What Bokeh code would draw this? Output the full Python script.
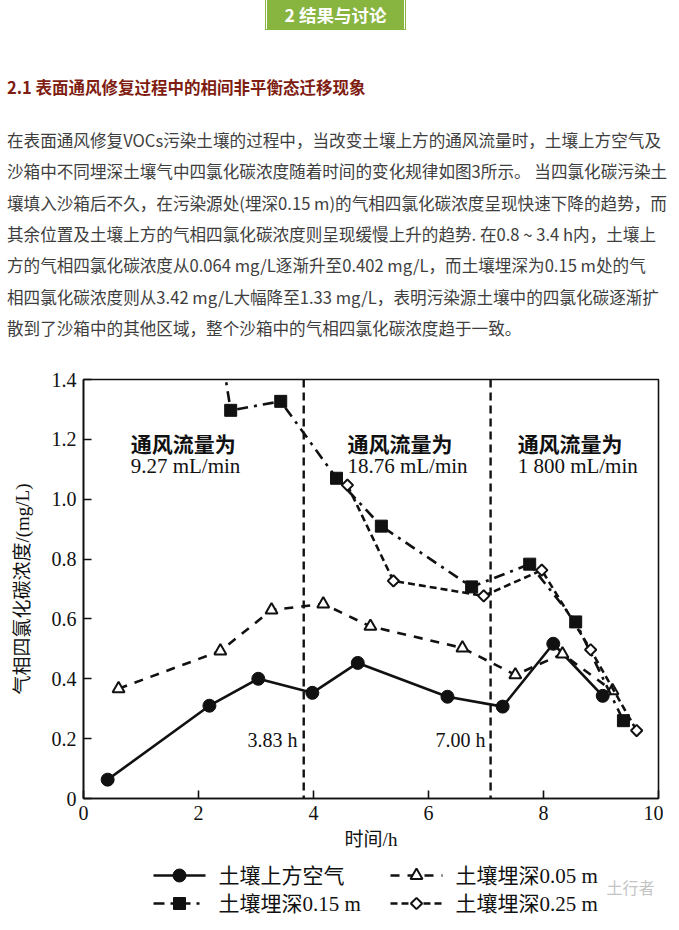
from bokeh.plotting import figure
from bokeh.models import Range1d, Span, FixedTicker, Div
from bokeh.layouts import column
from bokeh.embed import file_html
from bokeh.resources import INLINE
from bokeh.core.properties import value

# ---------------- data ----------------
air_t = [0.42, 2.19, 3.04, 3.98, 4.77, 6.33, 7.29, 8.17, 9.03]
air_c = [0.063, 0.31, 0.40, 0.353, 0.453, 0.34, 0.307, 0.517, 0.343]
d005_t = [0.61, 2.38, 3.27, 4.17, 4.99, 6.59, 7.51, 8.33, 9.20]
d005_c = [0.367, 0.493, 0.63, 0.65, 0.575, 0.503, 0.413, 0.483, 0.36]
d015_t = [0.80, 2.56, 3.43, 4.40, 5.18, 6.75, 7.76, 8.56, 9.39]
d015_c = [3.42, 1.297, 1.327, 1.07, 0.91, 0.707, 0.783, 0.59, 0.26]
d025_t = [4.59, 5.39, 6.96, 7.97, 8.82, 9.62]
d025_c = [1.047, 0.727, 0.677, 0.763, 0.497, 0.227]

series_names = ["土壤上方空气", "土壤埋深0.05 m", "土壤埋深0.15 m", "土壤埋深0.25 m"]

boundaries = [3.83, 7.08]
boundary_labels = ["3.83 h", "7.00 h"]
boundary_label_x = [3.72, 6.99]
boundary_label_y = [0.197, 0.197]

regime_x = [0.82, 4.59, 7.55]
regime_head = ["通风流量为", "通风流量为", "通风流量为"]
regime_flow = ["9.27 mL/min", "18.76 mL/min", "1 800 mL/min"]
regime_head_y = [1.187, 1.187, 1.187]
regime_flow_y = [1.11, 1.11, 1.11]

x_ticks = [0, 2, 4, 6, 8, 10]
y_ticks = [0, 0.2, 0.4, 0.6, 0.8, 1.0, 1.2, 1.4]

header_text = "2 结果与讨论"
section_title = "2.1 表面通风修复过程中的相间非平衡态迁移现象"
paragraph = [
    "在表面通风修复VOCs污染土壤的过程中，当改变土壤上方的通风流量时，土壤上方空气及",
    "沙箱中不同埋深土壤气中四氯化碳浓度随着时间的变化规律如图3所示。 当四氯化碳污染土",
    "壤填入沙箱后不久，在污染源处(埋深0.15 m)的气相四氯化碳浓度呈现快速下降的趋势，而",
    "其余位置及土壤上方的气相四氯化碳浓度则呈现缓慢上升的趋势. 在0.8 ~ 3.4 h内，土壤上",
    "方的气相四氯化碳浓度从0.064 mg/L逐渐升至0.402 mg/L，而土壤埋深为0.15 m处的气",
    "相四氯化碳浓度则从3.42 mg/L大幅降至1.33 mg/L，表明污染源土壤中的四氯化碳逐渐扩",
    "散到了沙箱中的其他区域，整个沙箱中的气相四氯化碳浓度趋于一致。",
]
watermark = "土行者"

CJK = "Noto Sans CJK SC"
SERIF = "Liberation Serif, Noto Sans CJK SC"
GREEN = "#88b440"
INK = "#111111"

# series styles (shared by chart and legend key)
styles = [
    dict(dash="solid", marker="circle", size=13, fill=INK, angle=0.0, lw=1),
    dict(dash="9 8", marker="triangle", size=12, fill="white", angle=0.0, lw=2),
    dict(dash="11 6 3 6", marker="square", size=12, fill=INK, angle=0.0, lw=1),
    dict(dash="7 4", marker="square", size=8, fill="white", angle=0.785, lw=2),
]
series_t = [air_t, d005_t, d015_t, d025_t]
series_c = [air_c, d005_c, d015_c, d025_c]

# ---------------- top text block (HTML) ----------------
parts = ['<div style="position:relative;width:663px;height:342px;'
         "font-family:'Noto Sans CJK SC',sans-serif;\">"]
parts.append('<div style="position:absolute;left:259.5px;top:-8px;width:141px;height:32.5px;'
             'border:1.6px solid %s;border-top:none;box-sizing:border-box;"></div>' % GREEN)
parts.append('<div style="position:absolute;left:262px;top:-8px;width:137px;height:31.5px;'
             'background:%s;"></div>' % GREEN)
parts.append('<div style="position:absolute;left:262px;top:0px;width:137px;height:20px;'
             'line-height:20px;text-align:center;color:white;font-weight:bold;'
             'font-size:17.5px;white-space:nowrap;">%s</div>' % header_text)
parts.append('<div style="position:absolute;left:2px;top:70px;height:24px;line-height:24px;'
             'color:#7f1d12;font-weight:bold;font-size:16.5px;white-space:nowrap;">%s</div>'
             % section_title)
for i, line in enumerate(paragraph):
    parts.append('<div style="position:absolute;left:2px;top:%.1fpx;height:24px;'
                 'line-height:24px;color:#3e3e3e;font-size:16.6px;white-space:nowrap;">%s</div>'
                 % (123 + 31.3 * i, line))
parts.append('</div>')
top = Div(text="".join(parts), width=663, height=342)

# ---------------- chart ----------------
p = figure(width=663, height=506, x_range=Range1d(0, 10), y_range=Range1d(0, 1.4),
           output_backend="svg", toolbar_location=None,
           min_border_left=83, min_border_right=5, min_border_top=27, min_border_bottom=60,
           outline_line_color=INK, outline_line_width=1.6)
p.grid.visible = False

for ax in (p.xaxis[0], p.yaxis[0]):
    ax.axis_line_color = INK
    ax.axis_line_width = 1.6
    ax.major_tick_in = 8
    ax.major_tick_out = 0
    ax.major_tick_line_color = INK
    ax.major_tick_line_width = 1.6
    ax.minor_tick_line_color = None
    ax.major_label_text_font = SERIF
    ax.major_label_text_font_size = "20px"
    ax.major_label_text_color = INK
    ax.axis_label_text_font = SERIF
    ax.axis_label_text_font_style = "normal"
    ax.axis_label_text_font_size = "19px"
    ax.axis_label_text_color = INK

p.xaxis.ticker = FixedTicker(ticks=x_ticks)
p.yaxis.ticker = FixedTicker(ticks=y_ticks)
p.yaxis.major_label_overrides = {0: "0", 1: "1.0"}
p.xaxis.major_label_standoff = 7
p.yaxis.major_label_standoff = 7
p.xaxis.axis_label = "时间/h"
p.yaxis.axis_label = "气相四氯化碳浓度/(mg/L)"
p.xaxis.axis_label_standoff = 6
p.yaxis.axis_label_standoff = 16

for b in boundaries:
    p.add_layout(Span(location=b, dimension="height", line_color=INK, line_width=2.4,
                      line_dash="8 5"))

for ts, cs, st in zip(series_t, series_c, styles):
    p.line(ts, cs, line_color=INK, line_width=2.6, line_dash=st["dash"])
    p.scatter(ts, cs, marker=st["marker"], size=st["size"], angle=st["angle"],
              fill_color=st["fill"], line_color=INK, line_width=st["lw"])

p.text(x=regime_x, y=regime_head_y, text=regime_head, text_font=value(CJK),
       text_font_style="bold", text_font_size="21px", text_color=INK,
       text_align="left", text_baseline="middle")
p.text(x=regime_x, y=regime_flow_y, text=regime_flow, text_font=value("Liberation Serif"),
       text_font_size="21px", text_color=INK, text_align="left", text_baseline="middle")
p.text(x=boundary_label_x, y=boundary_label_y, text=boundary_labels,
       text_font=value("Liberation Serif"), text_font_size="20px", text_color=INK,
       text_align="right", text_baseline="middle")

# ---------------- legend key (screen-pixel coordinates of the page) ----------------
key_col_x = [153, 390]      # left end of each column's sample line
key_row_y = [873, 901]      # centre of each row
key_len = 52
key_gap = 13

lg = figure(width=663, height=66, x_range=Range1d(83, 658), y_range=Range1d(922, 856),
            x_axis_type=None, y_axis_type=None, output_backend="svg", toolbar_location=None,
            min_border_left=83, min_border_right=5, min_border_top=0, min_border_bottom=0,
            outline_line_color=None)
lg.grid.visible = False
for i, (name, st) in enumerate(zip(series_names, styles)):
    x0 = key_col_x[i % 2]
    y0 = key_row_y[i // 2]
    lg.line([x0, x0 + key_len], [y0, y0], line_color=INK, line_width=2.6, line_dash=st["dash"])
    lg.scatter([x0 + key_len / 2], [y0], marker=st["marker"], size=st["size"], angle=st["angle"],
               fill_color=st["fill"], line_color=INK, line_width=st["lw"])
    lg.text([x0 + key_len + key_gap], [y0], text=[name], text_font=value(SERIF),
            text_font_size="21px", text_color=INK, text_align="left", text_baseline="middle")
lg.text([606], [884], text=[watermark], text_font=value(CJK), text_font_size="16px",
        text_color="#c4c4c4", text_align="left", text_baseline="middle")

layout = column(top, p, lg)
open("out.html", "w").write(file_html(layout, INLINE))
